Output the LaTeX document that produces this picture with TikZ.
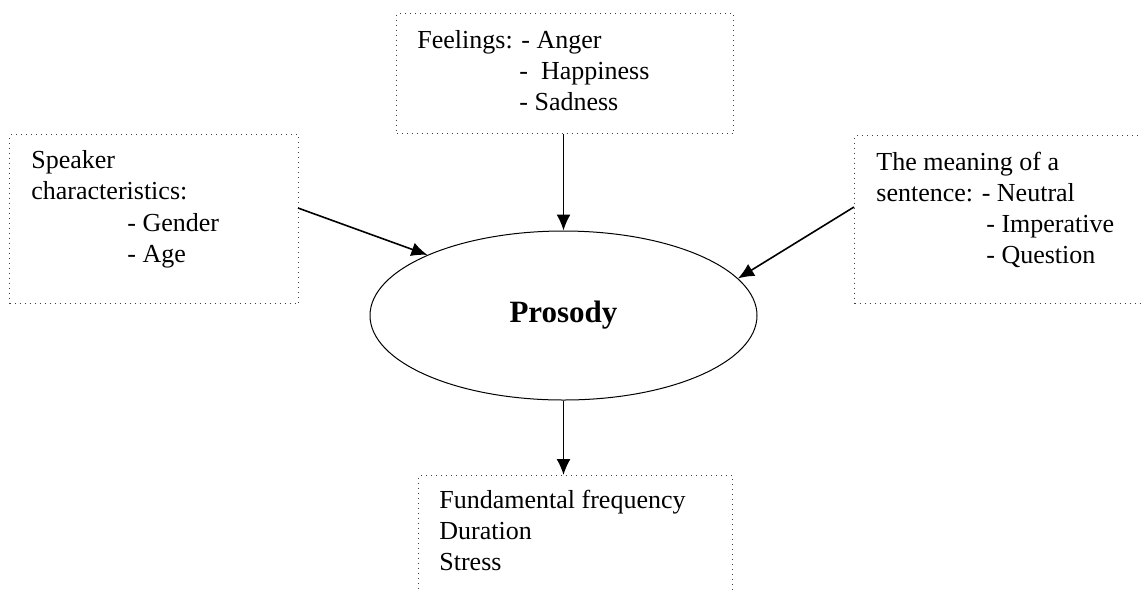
\documentclass[tikz,border=0pt]{standalone}
\usepackage{fontspec}
\setmainfont{Liberation Serif}
\usetikzlibrary{shapes.geometric,arrows.meta}
\begin{document}
\begin{tikzpicture}[x=0.5pt,y=-0.5pt,
  infobox/.style={draw=black!75,dotted,line width=0.5pt,inner sep=0pt,anchor=north west},
  txt/.style={anchor=base west,inner sep=0pt,font=\fontsize{13pt}{15pt}\selectfont},
  flow/.style={line width=0.8pt,-{Latex[length=8pt,width=7pt]}}]
\useasboundingbox (0,0) rectangle (1141,591);
\clip (0,0) rectangle (1141,591);
\fill[white] (0,0) rectangle (1141,591);

% boxes (width/height in pt = px/2)
\node[infobox,minimum width=168.5pt,minimum height=60pt] (feel) at (396,13) {};
\node[infobox,minimum width=144.5pt,minimum height=84.5pt] (spk) at (9,134) {};
\node[infobox,minimum width=150pt,minimum height=84pt] (mean) at (854,135) {};
\node[infobox,minimum width=157pt,minimum height=70pt] (out) at (418,475) {};

% central ellipse
\node[draw,ellipse,line width=0.5pt,minimum width=193.5pt,minimum height=84.5pt,inner sep=0pt,
      font=\fontsize{15.5pt}{18pt}\selectfont\bfseries] (pros) at (563.5,315.5) {Prosody};

% feelings text
\node[txt] (f1) at (417,48) {Feelings: - Anger};
\node[txt] (f2) at (519,79) {-\ \ Happiness};
\node[txt] (f3) at (519,110) {- Sadness};

% speaker text
\node[txt] (s1) at (31,168) {Speaker};
\node[txt] (s2) at (31,199) {characteristics:};
\node[txt] (s3) at (127,231) {- Gender};
\node[txt] (s4) at (127,262) {- Age};

% sentence meaning text
\node[txt] (m1) at (876,170) {The meaning of a};
\node[txt] (m2) at (876,201) {sentence: - Neutral};
\node[txt] (m3) at (986,232) {- Imperative};
\node[txt] (m4) at (986,263) {- Question};

% output text
\node[txt] (o1) at (439,508) {Fundamental frequency};
\node[txt] (o2) at (439,539) {Duration};
\node[txt] (o3) at (439,570) {Stress};

% connectors
\coordinate (spkout) at (298,208);
\coordinate (meanout) at (854,207);
\draw[flow] (feel.south -| pros.north) -- (pros.north);
\draw[flow] (spkout) -- (pros.156.8);
\draw[flow] (meanout) -- (pros.12.3);
\draw[flow] (pros.south) -- (out.north -| pros.south);
\end{tikzpicture}
\end{document}
